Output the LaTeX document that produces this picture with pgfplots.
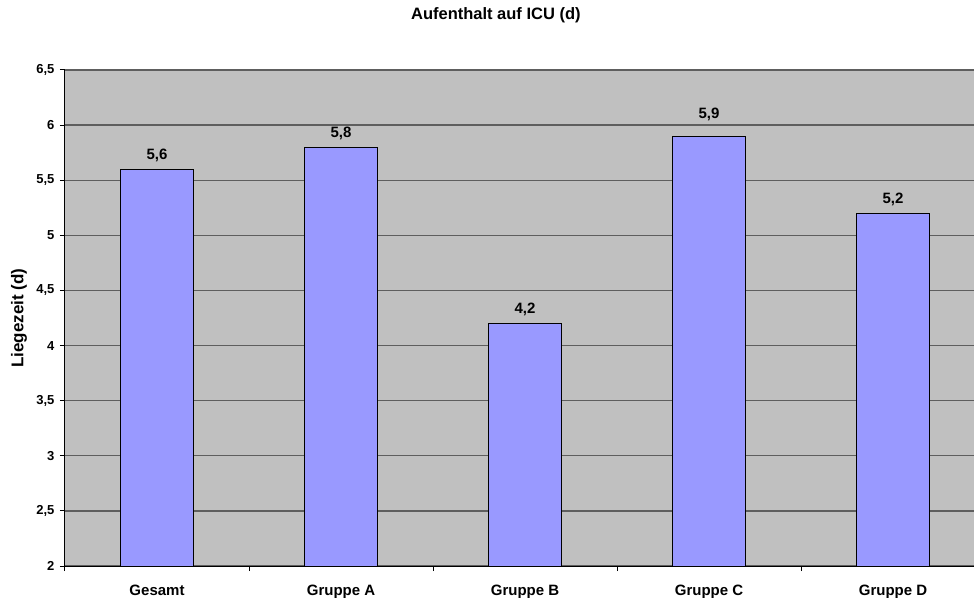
\documentclass[border=0pt]{standalone}
\usepackage{fontspec}
\setmainfont{Liberation Sans}
\usepackage{pgfplots}
\pgfplotsset{compat=1.18}
\definecolor{plotbg}{HTML}{C0C0C0}
\definecolor{barfill}{HTML}{9999FF}
\definecolor{gridc}{HTML}{5E5E5E}

\begin{document}
\begin{tikzpicture}[x=1pt,y=1pt]
\path[use as bounding box] (-65,-31) rectangle (909,566);
\begin{axis}[
  at={(0,0)}, anchor=south west,
  scale only axis, width=909pt, height=496pt,
  xmin=-0.5, xmax=4.44, ymin=2, ymax=6.5,
  axis x line*=bottom, axis y line*=left,
  axis line style={black, line width=1pt},
  axis background/.style={fill=plotbg},
  ytick={2,2.5,3,3.5,4,4.5,5,5.5,6,6.5},
  ymajorgrids, major grid style={gridc, line width=1.3pt},
  tick align=outside, major tick length=5pt,
  tick style={black, line width=1pt},
  xtick={-0.5,0.5,1.5,2.5,3.5}, xticklabels={},
  extra x ticks={0,1,2,3,4},
  extra x tick labels={Gesamt,Gruppe A,Gruppe B,Gruppe C,Gruppe D},
  extra x tick style={major tick length=0pt, grid=none,
    xticklabel style={font=\bfseries\fontsize{15}{18}\selectfont, anchor=base, yshift=-29pt}},
  yticklabel style={font=\bfseries\fontsize{13}{15}\selectfont, anchor=east, xshift=-2pt},
  /pgf/number format/assume math mode=true,
  /pgf/number format/use comma,
  ylabel={Liegezeit (d)},
  ylabel style={font=\bfseries\fontsize{17}{20}\selectfont, at={(axis description cs:0,0.5)}, anchor=center, rotate=0, yshift=46pt},
  title={Aufenthalt auf ICU (d)},
  title style={font=\bfseries\fontsize{16.5}{20}\selectfont, at={(axis description cs:0.474,1)}, anchor=base, yshift=44pt},
  ybar, bar width=0.4, bar shift=0pt,
  nodes near coords,
  nodes near coords style={font=\bfseries\fontsize{15}{18}\selectfont, anchor=base,
    /pgf/number format/fixed, /pgf/number format/precision=1, /pgf/number format/use comma},
]
% the bars with their value labels
\addplot[fill=barfill, draw=black, line width=1pt,
  every node near coord/.append style={yshift=10pt}]
  coordinates {(0,5.6) (1,5.8) (2,4.2) (4,5.2)};
\addplot[fill=barfill, draw=black, line width=1pt,
  every node near coord/.append style={yshift=18pt}]
  coordinates {(3,5.9)};
\end{axis}
\end{tikzpicture}
\end{document}
